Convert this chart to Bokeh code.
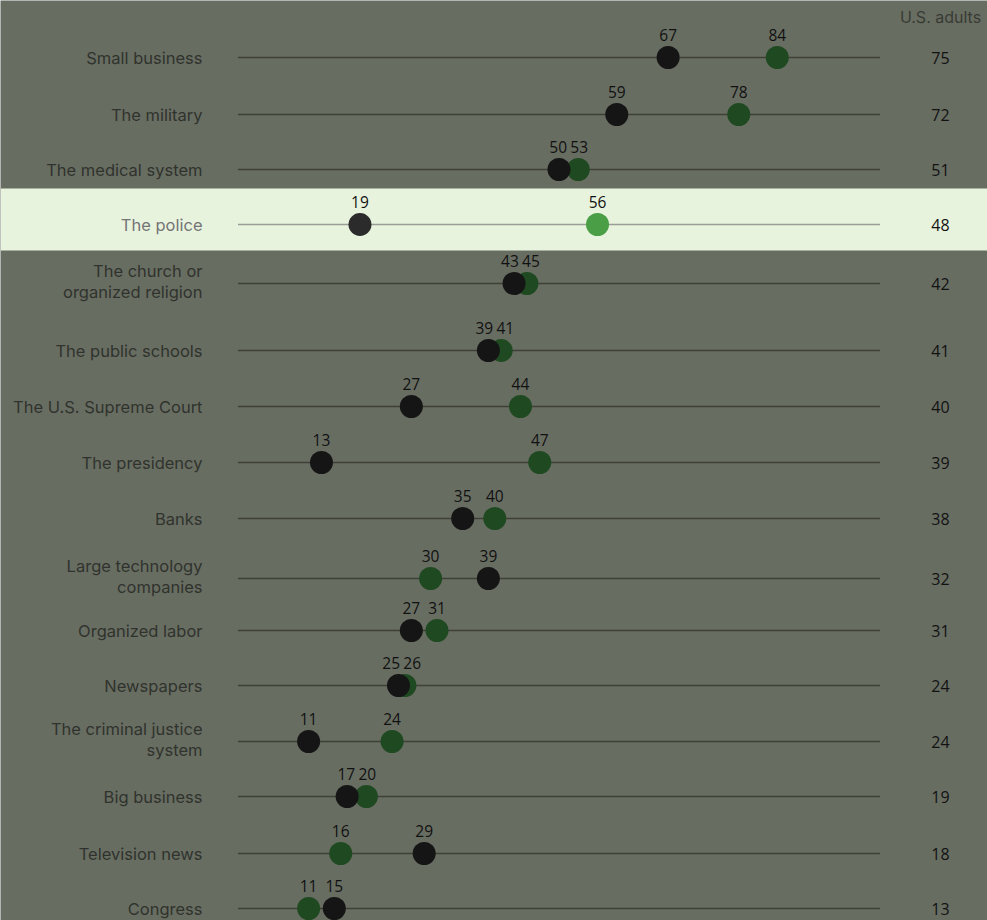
from bokeh.plotting import figure
from bokeh.models import Range1d, BoxAnnotation, ColumnDataSource
from bokeh.embed import file_html
from bokeh.resources import INLINE
from bokeh.core.properties import value

# ---------------- data ----------------
categories = [
    "Small business", "The military", "The medical system", "The police",
    "The church or\norganized religion", "The public schools",
    "The U.S. Supreme Court", "The presidency", "Banks",
    "Large technology\ncompanies", "Organized labor", "Newspapers",
    "The criminal justice\nsystem", "Big business", "Television news", "Congress",
]
black_vals = [67, 59, 50, 19, 43, 39, 27, 13, 35, 39, 27, 25, 11, 17, 29, 15]
green_vals = [84, 78, 53, 56, 45, 41, 44, 47, 40, 30, 31, 26, 24, 20, 16, 11]
adults_vals = [75, 72, 51, 48, 42, 41, 40, 39, 38, 32, 31, 24, 24, 19, 18, 13]
highlight = "The police"
header = "U.S. adults"
scale_min, scale_max = 0, 100

# ---------------- layout ----------------
W, H, M = 987, 920, 0
X0_PX, PX_PER_UNIT = 237.5, 6.42
FIRST_ROW_PX = 57
ROW_GAPS = [57, 55, 55, 59, 67, 56, 56, 56, 60, 52, 55, 56, 55, 57, 55]
LABEL_RIGHT_PX = 202
RIGHT_COL_PX = 940
HEADER_PX = 16
MIN_LABEL_SEP = 21  # px between value-label centres

def to_x(px):
    return (px - X0_PX) / PX_PER_UNIT

row_y = [FIRST_ROW_PX]
for g in ROW_GAPS:
    row_y.append(row_y[-1] + g)

BG = "#686d62"
HL_BG = "#e8f3de"

xs = to_x(M)
xe = xs + W / PX_PER_UNIT

p = figure(width=W, height=H, output_backend="svg", toolbar_location=None,
           x_range=Range1d(xs, xe), y_range=Range1d(M + H, M),
           x_axis_type=None, y_axis_type=None, min_border=0)
p.background_fill_color = BG
p.border_fill_color = BG
p.outline_line_color = None
p.grid.visible = False

hi = categories.index(highlight)
is_hi = [c == highlight for c in categories]

p.add_layout(BoxAnnotation(top=row_y[hi] - 36, bottom=row_y[hi] + 26,
                           fill_color=HL_BG, fill_alpha=1, line_color=None,
                           level="underlay"))

# row lines
p.segment(x0=[scale_min] * len(categories), x1=[scale_max] * len(categories),
          y0=row_y, y1=row_y,
          line_color=["#9a9c98" if h else "#3d4037" for h in is_hi], line_width=1.6)

# dots: green first, black on top
p.scatter(x=green_vals, y=row_y, size=23, marker="circle", line_color=None,
          fill_color=["#4a9e45" if h else "#1f4a21" for h in is_hi])
p.scatter(x=black_vals, y=row_y, size=23, marker="circle", line_color=None,
          fill_color=["#2b2b2b" if h else "#151515" for h in is_hi])

# value labels above dots (pushed apart when the dots are close)
lx, ly, lt, lo = [], [], [], []
for i in range(len(categories)):
    b, g = black_vals[i], green_vals[i]
    gap_px = abs(b - g) * PX_PER_UNIT
    push = max(0.0, (MIN_LABEL_SEP - gap_px) / 2)
    for v, other in ((b, g), (g, b)):
        lx.append(v); ly.append(row_y[i]); lt.append(str(v))
        lo.append(-push if v < other else (push if v > other else 0))
src = ColumnDataSource(dict(x=lx, y=ly, text=lt, off=lo))
p.text(x="x", y="y", text="text", source=src, text_align="center", x_offset="off",
       y_offset=-23, text_baseline="middle", text_font=value("Open Sans"),
       text_font_size="15.5px", text_color="#111111")

# category labels
p.text(x=[to_x(LABEL_RIGHT_PX)] * len(categories),
       y=[y - (2 if "\n" in c else 0) for y, c in zip(row_y, categories)],
       text=categories, text_align="right", text_baseline="middle",
       text_font=value("Inter"), text_font_size="16.5px", text_line_height=1.06,
       text_color=["#747474" if h else "#30332d" for h in is_hi])

# right column: U.S. adults
p.text(x=[to_x(RIGHT_COL_PX)] * len(categories), y=row_y,
       text=[str(v) for v in adults_vals], text_align="center", text_baseline="middle",
       text_font=value("Open Sans"), text_font_size="16px", text_color="#121212")
p.text(x=[to_x(RIGHT_COL_PX)], y=[HEADER_PX], text=[header], text_align="center",
       text_baseline="middle", text_font=value("Inter"), text_font_size="16px",
       text_color="#383b34")

open("out.html", "w").write(file_html(p, INLINE))
